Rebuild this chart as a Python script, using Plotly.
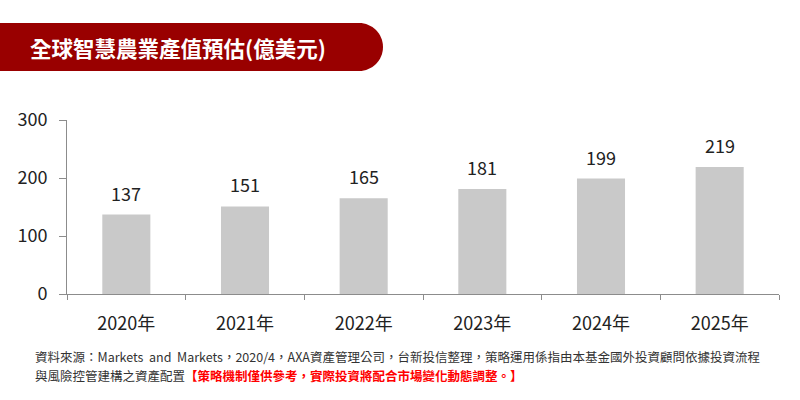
import plotly.graph_objects as go

categories = ["2020年", "2021年", "2022年", "2023年", "2024年", "2025年"]
values = [137, 151, 165, 181, 199, 219]
y_ticks = [0, 100, 200, 300]

title_text = "全球智慧農業產值預估(億美元)"
source_line1 = "資料來源：Markets  and  Markets，2020/4，AXA資產管理公司，台新投信整理，策略運用係指由本基金國外投資顧問依據投資流程"
source_line2 = "與風險控管建構之資產配置"
source_note = "【策略機制僅供參考，實際投資將配合市場變化動態調整。】"

W, H = 800, 400
L, R, T, B = 67, 21, 120, 106
PW, PH = W - L - R, H - T - B

def px(x):
    return (x - L) / PW

def py(y):
    return (H - B - y) / PH

FONT = "Noto Sans CJK TC, Noto Sans, sans-serif"
AXIS = "#8c8c8c"

fig = go.Figure()
fig.add_trace(go.Bar(
    x=categories, y=values,
    marker=dict(color="#c9c9c9", line=dict(width=0)),
    width=0.405, hoverinfo="skip",
))

for c, v in zip(categories, values):
    fig.add_annotation(x=c, y=v, xref="x", yref="y", text=str(v),
                       showarrow=False, yanchor="middle", yshift=22,
                       font=dict(size=18, color="#222222", family=FONT))

# title banner (rounded right end)
x0, x1, y0, y1 = 0, 383, 23, 71
r = (y1 - y0) / 2
cx = x1 - r
k = 0.5523 * r
path = (f"M {px(x0)},{py(y0)} L {px(cx)},{py(y0)} "
        f"C {px(cx + k)},{py(y0)} {px(x1)},{py(y0 + r - k)} {px(x1)},{py(y0 + r)} "
        f"C {px(x1)},{py(y0 + r + k)} {px(cx + k)},{py(y1)} {px(cx)},{py(y1)} "
        f"L {px(x0)},{py(y1)} Z")
fig.add_shape(type="path", path=path, xref="paper", yref="paper",
              fillcolor="#990000", line=dict(width=0), layer="above")

fig.add_annotation(x=px(28), y=py(47), xref="paper", yref="paper",
                   text=f"<b>{title_text}</b>", showarrow=False,
                   xanchor="left", yanchor="middle",
                   font=dict(size=21.5, color="white", family=FONT))

fig.add_annotation(x=px(34), y=py(356), xref="paper", yref="paper",
                   text=source_line1, showarrow=False,
                   xanchor="left", yanchor="middle", borderpad=0,
                   font=dict(size=12.5, color="#333333", family=FONT))
fig.add_annotation(x=px(34), y=py(375), xref="paper", yref="paper",
                   text=source_line2, showarrow=False,
                   xanchor="left", yanchor="middle", borderpad=0,
                   font=dict(size=12.5, color="#333333", family=FONT))
fig.add_annotation(x=px(184), y=py(375), xref="paper", yref="paper",
                   text=f"<b>{source_note}</b>", showarrow=False,
                   xanchor="left", yanchor="middle", borderpad=0,
                   font=dict(size=12.5, color="#ff0000", family=FONT))

fig.update_layout(
    width=W, height=H,
    margin=dict(l=L, r=R, t=T, b=B, pad=0),
    paper_bgcolor="white", plot_bgcolor="white",
    showlegend=False,
    bargap=0.595,
    xaxis=dict(showline=True, linecolor=AXIS, linewidth=1,
               ticks="outside", tickson="boundaries", ticklen=5,
               ticklabelstandoff=13,
               tickcolor=AXIS, tickfont=dict(size=18, color="#222222", family=FONT),
               showgrid=False, zeroline=False, fixedrange=True),
    yaxis=dict(range=[0, 300], tickvals=y_ticks, showline=True,
               linecolor=AXIS, linewidth=1, ticks="outside", ticklen=7,
               ticklabelstandoff=8,
               tickcolor=AXIS, tickfont=dict(size=18, color="#222222", family=FONT),
               showgrid=False, zeroline=False, fixedrange=True),
)

fig.write_html("out.html", config={"displayModeBar": False, "staticPlot": True},
               post_script="document.body.style.margin='0';document.body.style.overflow='hidden';")
